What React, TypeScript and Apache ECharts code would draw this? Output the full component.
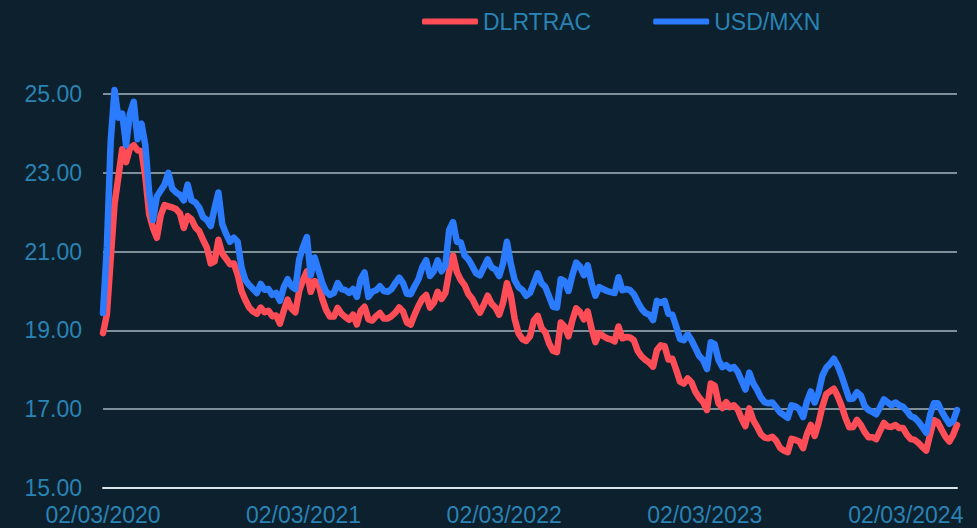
import React, { useEffect, useRef } from "react";
import * as echarts from "echarts";

const SERIES_NAMES = ["DLRTRAC", "USD/MXN"];
const START_DATE = "2020-03-02";
const STEP_DAYS = 7;
const X_TICK_DATES = ["2020-03-02", "2021-03-02", "2022-03-02", "2023-03-02", "2024-03-02"];
const Y_MIN = 15;
const Y_MAX = 25;
const Y_STEP = 2;

const dlrtrac = [
  18.93, 19.4, 20.8, 22.2, 22.9, 23.6, 23.27, 23.62, 23.7, 23.57,
  23.55, 22.9, 21.95, 21.6, 21.35, 21.92, 22.18, 22.15, 22.12, 22.08,
  21.97, 21.6, 21.9, 21.82, 21.62, 21.52, 21.3, 21.1, 20.7, 20.75,
  21.3, 20.95, 20.82, 20.68, 20.7, 20.42, 20.0, 19.77, 19.58, 19.48,
  19.42, 19.58, 19.46, 19.5, 19.36, 19.38, 19.17, 19.5, 19.78, 19.55,
  19.46, 20.0, 20.28, 20.5, 19.98, 20.25, 20.2, 19.8, 19.52, 19.35,
  19.35, 19.57, 19.42, 19.34, 19.27, 19.4, 19.15, 19.5, 19.6, 19.28,
  19.25, 19.36, 19.44, 19.3, 19.3, 19.36, 19.45, 19.58, 19.48, 19.2,
  19.15, 19.4, 19.62, 19.8, 19.9, 19.58, 19.7, 19.98, 19.8, 19.95,
  20.5, 20.9, 20.48, 20.28, 20.15, 19.92, 19.8, 19.6, 19.45, 19.65,
  19.88, 19.68, 19.58, 19.4, 19.7, 20.2, 19.9, 19.3, 18.93, 18.78,
  18.73, 18.85, 19.25, 19.37, 19.06, 18.95, 18.66, 18.48, 18.45, 19.2,
  19.1, 18.85, 19.25, 19.56, 19.47, 19.28, 19.48, 19.05, 18.7, 18.93,
  18.86, 18.8, 18.77, 18.72, 19.1, 18.8, 18.83, 18.82, 18.75, 18.48,
  18.34, 18.25, 18.18, 18.08, 18.5, 18.62, 18.6, 18.26, 18.28, 18.0,
  17.7, 17.65, 17.78, 17.68, 17.44, 17.29, 17.18, 16.98, 17.65, 17.6,
  17.15, 17.03, 17.18, 17.05, 17.1, 17.0, 16.76, 16.57, 17.02, 16.73,
  16.56, 16.37, 16.28, 16.26, 16.3, 16.2, 16.02, 15.95, 15.91, 16.25,
  16.22, 16.18, 16.01, 16.37, 16.6, 16.32, 16.65, 17.06, 17.38, 17.45,
  17.52, 17.33, 17.08, 16.78, 16.54, 16.55, 16.73, 16.6, 16.42, 16.29,
  16.29, 16.24, 16.45, 16.65, 16.56, 16.55, 16.6, 16.52, 16.52, 16.35,
  16.24, 16.22, 16.14, 16.04, 15.95, 16.35, 16.72, 16.67, 16.48, 16.3,
  16.18, 16.35, 16.6,
];

const usdmxn = [
  19.44, 21.1, 23.8, 25.1, 24.4, 24.5, 23.7, 24.5, 24.8, 23.85,
  24.25, 23.7, 22.5, 21.8, 22.4, 22.55, 22.7, 23.0, 22.6, 22.5,
  22.44, 22.3, 22.7, 22.3, 22.25, 22.12, 21.88, 21.8, 21.65, 22.1,
  22.5, 21.7, 21.45, 21.25, 21.35, 21.25, 20.6, 20.28, 20.15, 20.05,
  19.95, 20.18, 20.03, 20.05, 19.9, 19.95, 19.75, 20.1, 20.3, 20.12,
  20.05, 20.8, 21.12, 21.37, 20.4, 20.85, 20.53, 20.2, 19.98, 19.9,
  19.95, 20.2, 20.05, 20.02, 19.95, 20.05, 19.85, 20.3, 20.47, 19.85,
  19.98, 20.02, 20.12, 20.0, 19.98, 20.05, 20.2, 20.34, 20.2, 19.93,
  19.92, 20.12, 20.3, 20.6, 20.78, 20.38, 20.5, 20.78, 20.5, 20.65,
  21.55, 21.75, 21.25, 21.23, 20.9, 20.8, 20.63, 20.45, 20.4, 20.6,
  20.8, 20.6, 20.55, 20.38, 20.7, 21.25, 20.7, 20.28, 20.1, 20.03,
  19.88, 19.95, 20.2, 20.45, 20.2, 20.1, 19.85, 19.6, 19.58, 20.3,
  20.25, 20.0, 20.4, 20.72, 20.62, 20.4, 20.65, 20.2, 19.88, 20.1,
  20.05, 20.0, 19.97, 19.95, 20.35, 20.02, 20.05, 20.02, 19.92, 19.72,
  19.55, 19.44, 19.4, 19.26, 19.75, 19.7, 19.75, 19.42, 19.4, 19.1,
  18.78, 18.75, 18.9, 18.75, 18.55, 18.35, 18.25, 18.02, 18.7, 18.65,
  18.25, 18.07, 18.12, 18.03, 18.07, 17.95, 17.72, 17.5, 17.93, 17.66,
  17.5, 17.3, 17.18, 17.15, 17.17, 17.05, 16.92, 16.85, 16.78, 17.1,
  17.07, 17.0, 16.8, 17.2, 17.45, 17.17, 17.42, 17.85, 18.05, 18.15,
  18.28, 18.1, 17.85, 17.55, 17.26, 17.27, 17.43, 17.35, 17.08, 16.98,
  16.93, 16.87, 17.05, 17.25, 17.17, 17.1, 17.17, 17.1, 17.06, 16.95,
  16.82, 16.78, 16.68, 16.55, 16.4, 16.85, 17.15, 17.15, 16.95, 16.78,
  16.63, 16.7, 16.98,
];

const FONT = "'Liberation Sans', Arial, Helvetica, sans-serif";
const TEXT_COLOR = "#2a83b3";
const RED = "#ff4d57";
const BLUE = "#2b7bff";
const DAY_MS = 86400000;

function toUTC(s: string): number {
  const [y, m, d] = s.split("-").map(Number);
  return Date.UTC(y, m - 1, d);
}

function fmtDate(ts: number): string {
  const d = new Date(ts);
  const dd = String(d.getUTCDate()).padStart(2, "0");
  const mm = String(d.getUTCMonth() + 1).padStart(2, "0");
  return `${dd}/${mm}/${d.getUTCFullYear()}`;
}

export default function App() {
  const ref = useRef<HTMLDivElement>(null);

  useEffect(() => {
    if (!ref.current) return;
    const chart = echarts.init(ref.current, undefined, { renderer: "svg" });
    const start = toUTC(START_DATE);
    // x = days since the start date
    const days = dlrtrac.map((_, i) => i * STEP_DAYS);
    const tickDays = X_TICK_DATES.map((s) => Math.round((toUTC(s) - start) / DAY_MS));
    const redData = days.map((d, i) => [d, dlrtrac[i]]);
    const blueData = days.map((d, i) => [d, usdmxn[i]]);

    chart.setOption({
      animation: false,
      backgroundColor: "#0c202e",
      textStyle: { fontFamily: FONT },
      legend: {
        data: SERIES_NAMES.map((name) => ({ name, icon: "roundRect" })),
        left: 417,
        top: 5,
        itemWidth: 56,
        itemHeight: 6,
        itemGap: 62,
        textStyle: { color: TEXT_COLOR, fontSize: 23, fontFamily: FONT },
      },
      grid: { left: 103, right: 20, top: 94, bottom: 40 },
      xAxis: {
        type: "value",
        min: 0,
        max: days[days.length - 1],
        axisLine: { show: true, onZero: false, lineStyle: { color: "#dbe5ea", width: 2 } },
        axisTick: { show: false },
        splitLine: { show: false },
        axisLabel: {
          customValues: tickDays,
          formatter: (v: number) => fmtDate(start + v * DAY_MS),
          color: TEXT_COLOR,
          fontSize: 23,
          fontFamily: FONT,
          margin: 15,
          hideOverlap: false,
        },
      },
      yAxis: {
        type: "value",
        min: Y_MIN,
        max: Y_MAX,
        interval: Y_STEP,
        axisLine: { show: false },
        axisTick: { show: false },
        axisLabel: {
          formatter: (v: number) => v.toFixed(2),
          color: TEXT_COLOR,
          fontSize: 23,
          fontFamily: FONT,
          margin: 21,
        },
        splitLine: { show: true, lineStyle: { color: "#a3b5bd", width: 1.5 } },
      },
      series: [
        {
          name: SERIES_NAMES[0],
          type: "line",
          data: redData,
          showSymbol: false,
          symbol: "none",
          clip: false,
          itemStyle: { color: RED },
          lineStyle: { color: RED, width: 6.5, cap: "round", join: "round" },
        },
        {
          name: SERIES_NAMES[1],
          type: "line",
          data: blueData,
          showSymbol: false,
          symbol: "none",
          clip: false,
          itemStyle: { color: BLUE },
          lineStyle: { color: BLUE, width: 6.5, cap: "round", join: "round" },
        },
      ],
    });
    return () => chart.dispose();
  }, []);

  return (
    <div
      ref={ref}
      style={{ position: "fixed", left: 0, top: 0, width: 977, height: 528 }}
    />
  );
}
